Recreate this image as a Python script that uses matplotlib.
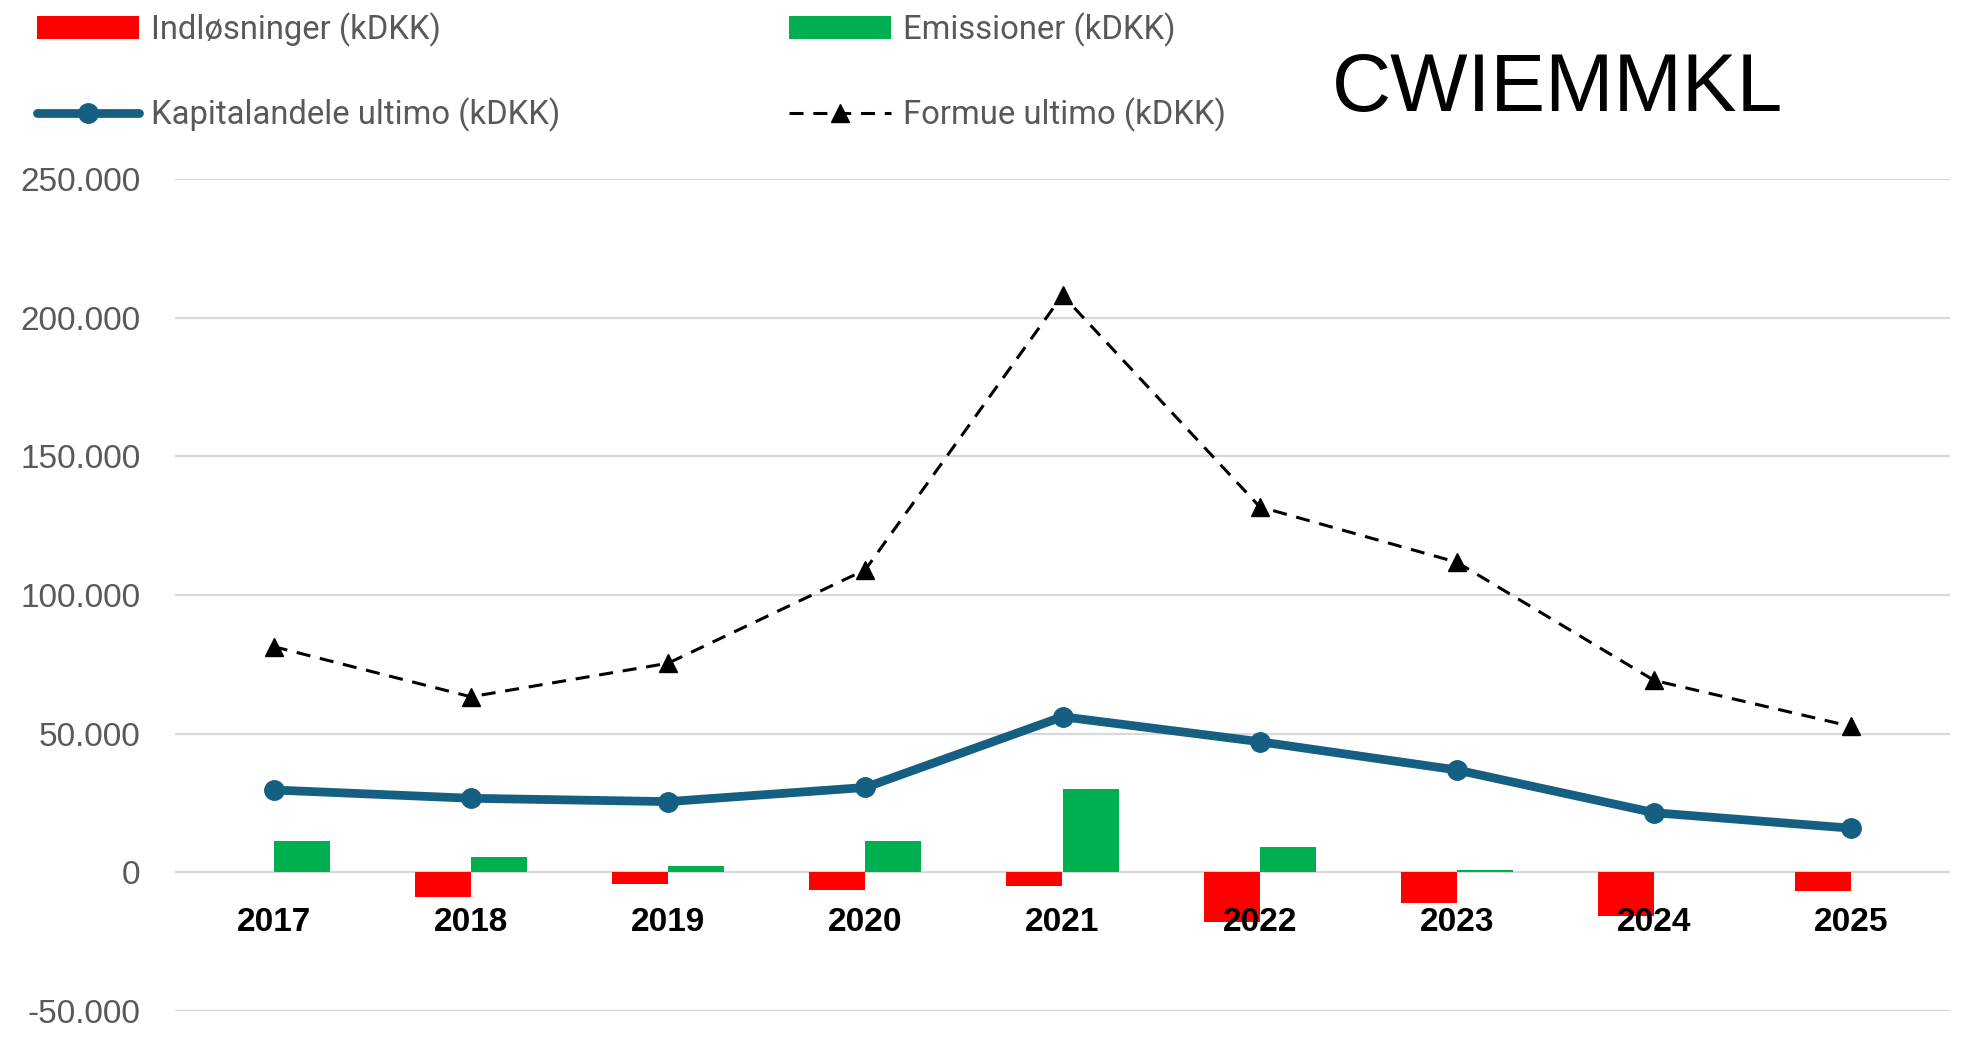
import matplotlib
matplotlib.use("Agg")
import matplotlib.pyplot as plt
from matplotlib.ticker import FuncFormatter, FixedLocator
import numpy as np

years = ["2017", "2018", "2019", "2020", "2021", "2022", "2023", "2024", "2025"]
indloesninger = [0, -8900, -4200, -6400, -4900, -18000, -10900, -15600, -6700]
emissioner = [11400, 5400, 2200, 11400, 29900, 9000, 700, 0, 0]
kapitalandele = [29700, 26700, 25500, 30600, 56100, 47100, 36900, 21500, 15900]
formue = [81400, 63300, 75400, 109100, 208100, 131800, 111800, 69200, 52600]
yticks = [-50000, 0, 50000, 100000, 150000, 200000, 250000]

W, H = 1962, 1039
fig = plt.figure(figsize=(W / 100, H / 100), dpi=100)
ax = fig.add_axes([175 / W, 1 - 1011 / H, (1950 - 175) / W, (1011 - 179) / H])

x = np.arange(len(years))
bw = 0.285
b1 = ax.bar(x - bw / 2, indloesninger, width=bw, color="#FF0000", zorder=2,
            label="Indløsninger (kDKK)")
b2 = ax.bar(x + bw / 2, emissioner, width=bw, color="#00B050", zorder=2,
            label="Emissioner (kDKK)")
l1, = ax.plot(x, kapitalandele, color="#156082", lw=6.3, marker="o", ms=14,
              zorder=4, solid_capstyle="round", label="Kapitalandele ultimo (kDKK)")
l2, = ax.plot(x, formue, color="black", lw=2.2, ls=(0, (4.6, 3.2)), marker="^",
              ms=12.5, zorder=5, label="Formue ultimo (kDKK)")

ax.set_xlim(-0.5, len(years) - 0.5)
ax.set_ylim(yticks[0], yticks[-1])
ax.yaxis.set_major_locator(FixedLocator(yticks))
ax.yaxis.set_major_formatter(FuncFormatter(lambda v, p: f"{int(v):,}".replace(",", ".")))
ax.set_xticks([])
ax.grid(axis="y", color="#D9D9D9", lw=1.6, zorder=0)
ax.set_axisbelow(True)
for s in ax.spines.values():
    s.set_visible(False)
ax.tick_params(axis="y", length=0, pad=25, labelsize=24, labelcolor="#595959")
for t in ax.get_yticklabels():
    t.set_fontfamily("Liberation Sans")

for i, yr in enumerate(years):
    ax.annotate(yr, (i, 0), xytext=(0, -36), textcoords="offset points",
                ha="center", va="center", fontsize=24, fontweight="bold",
                fontfamily="Liberation Sans", color="black", zorder=10)

fig.text(1332 / W, 1 - 90 / H, "CWIEMMKL", fontsize=59, fontfamily="Liberation Sans",
         ha="left", va="center", color="black")

fs = 23.6
leg = fig.legend([b1, l1, b2, l2],
                 ["Indløsninger (kDKK)", "Kapitalandele ultimo (kDKK)",
                  "Emissioner (kDKK)", "Formue ultimo (kDKK)"],
                 ncol=2, loc="upper left", bbox_to_anchor=(37 / W, 1 - 12 / H),
                 frameon=False, borderpad=0, borderaxespad=0,
                 handlelength=73.4 / fs, handletextpad=8.6 / fs, columnspacing=165 / fs,
                 labelspacing=1.55, prop={"family": "Roboto", "size": fs},
                 labelcolor="#595959", numpoints=1)

fig.savefig("out.png", dpi=100)
